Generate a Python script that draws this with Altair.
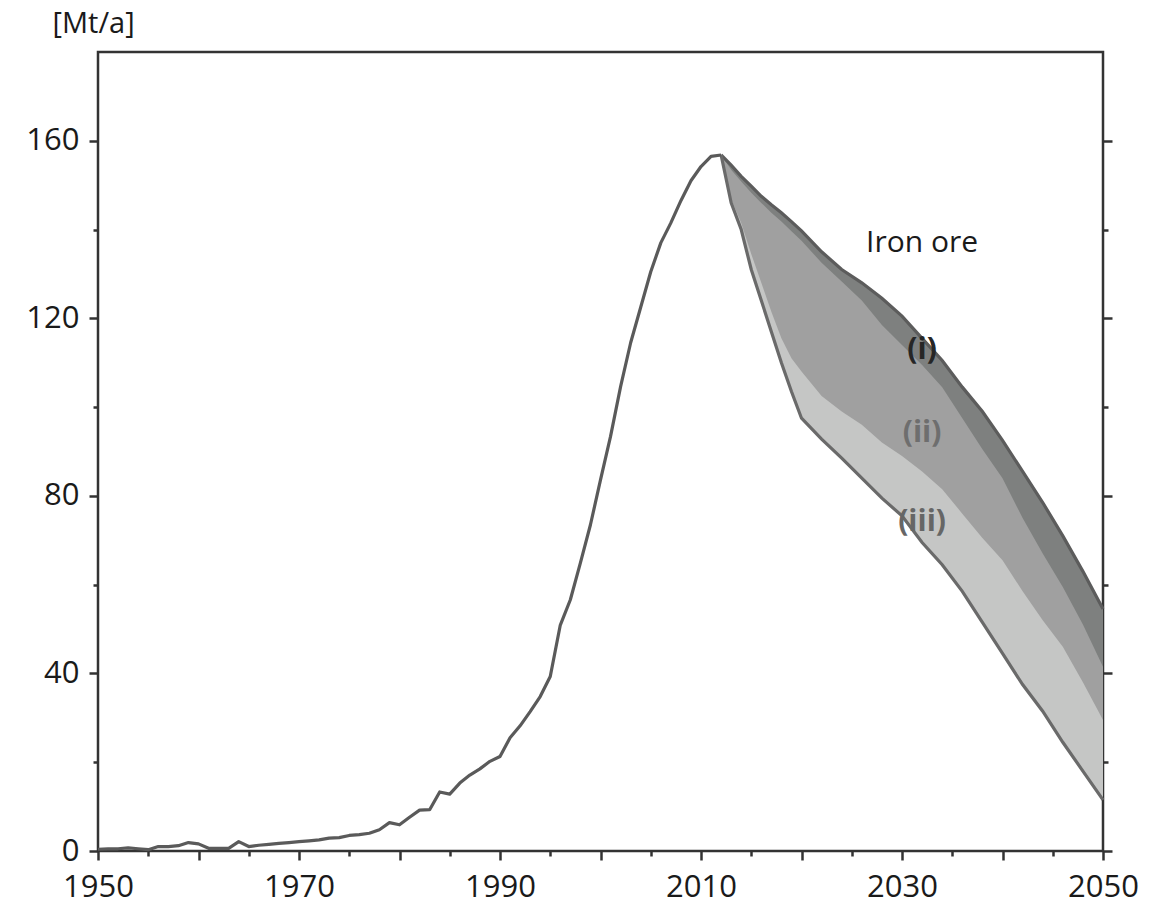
import altair as alt
import pandas as pd

# Historical production [Mt/a]
hist_years = list(range(1950, 2013))
hist_vals = [0.4, 0.5, 0.5, 0.7, 0.5, 0.3, 1.0, 1.0, 1.2, 1.9,
             1.6, 0.6, 0.6, 0.6, 2.1, 1.0, 1.3, 1.5, 1.7, 1.9,
             2.1, 2.3, 2.5, 2.9, 3.0, 3.5, 3.7, 4.0, 4.8, 6.4,
             5.9, 7.6, 9.2, 9.3, 13.3, 12.8, 15.3, 17.1, 18.5, 20.2,
             21.3, 25.5, 28.2, 31.4, 34.8, 39.3, 50.9, 56.6, 64.9, 73.5,
             83.6, 93.4, 104.6, 114.5, 122.5, 130.5, 137.0, 141.5, 146.5, 151.0,
             154.2, 156.5, 156.8]

# Projections (boundaries of the scenario bands)
proj_years = [2012, 2013, 2014, 2015, 2016, 2017, 2018, 2019, 2020, 2022, 2024, 2026,
              2028, 2030, 2032, 2034, 2036, 2038, 2040, 2042, 2044, 2046, 2048, 2050]
proj_i = [156.8, 154.5, 152.0, 149.8, 147.5, 145.6, 143.8, 141.8, 139.7, 135.0, 131.0, 128.0,
          124.5, 120.5, 115.5, 110.5, 104.5, 99.0, 92.5, 85.5, 78.5, 71.0, 63.0, 54.5]
proj_ii = [156.8, 153.5, 150.8, 148.3, 146.0, 143.8, 141.8, 139.6, 137.5, 132.5, 128.3, 124.0,
           118.5, 114.0, 109.5, 104.5, 97.5, 90.5, 84.0, 75.0, 67.0, 59.5, 51.0, 41.5]
proj_iii = [156.8, 146.8, 141.5, 134.5, 128.0, 121.5, 115.5, 111.0, 108.0, 102.5, 99.0, 96.0,
            92.0, 89.0, 85.5, 81.5, 76.0, 70.5, 65.5, 58.5, 52.0, 46.0, 38.0, 29.5]
proj_low = [156.8, 146.0, 140.0, 131.0, 124.0, 117.0, 110.0, 103.5, 97.5, 92.8, 88.5, 84.0,
            79.5, 75.5, 69.5, 64.5, 58.5, 51.5, 44.5, 37.5, 31.5, 24.5, 18.0, 11.5]

label_text = ["Iron ore", "(i)", "(ii)", "(iii)"]
label_x = [2032, 2032, 2032, 2032]
label_y = [137, 112.9, 94.2, 74.1]
label_color = ["#1a1a1a", "#262626", "#6e6e6e", "#666666"]
label_weight = ["normal", "bold", "bold", "bold"]

hist_df = pd.DataFrame({"year": hist_years, "value": hist_vals})
proj_df = pd.DataFrame({"year": proj_years, "top": proj_i, "b1": proj_ii,
                        "b2": proj_iii, "low": proj_low})
lab_df = pd.DataFrame({"text": label_text, "x": label_x, "y": label_y})

FONT = "Open Sans"
AX = "#333333"
xs = alt.Scale(domain=[1950, 2050], nice=False, zero=False)
ys = alt.Scale(domain=[0, 180], nice=False)

common = dict(domain=False, grid=False, tickColor=AX, tickWidth=2.5, title=None)

ax_bottom_major = alt.Axis(orient="bottom", values=list(range(1950, 2051, 10)), tickSize=9,
                           labelExpr="datum.value % 20 == 10 ? format(datum.value, 'd') : ''",
                           labelFont=FONT, labelFontSize=31, labelColor="#1a1a1a",
                           labelPadding=12, labelFlush=False, labelOverlap=False, **common)
ax_bottom_minor = alt.Axis(orient="bottom", values=list(range(1955, 2050, 10)), tickSize=5,
                           labels=False, **common)

ay_left_major = alt.Axis(orient="left", values=[0, 40, 80, 120, 160], tickSize=9,
                         labelFont=FONT, labelFontSize=31, labelColor="#1a1a1a",
                         labelPadding=10, labelFlush=False, labelOverlap=False,
                         domain=False, grid=False, tickColor=AX, tickWidth=2.5,
                         title="[Mt/a]", titleAngle=0, titleAlign="left",
                         titleBaseline="alphabetic", titleX=-46, titleY=-20,
                         titleFont=FONT, titleFontSize=29, titleFontWeight="normal",
                         titleColor="#1a1a1a")
ay_left_minor = alt.Axis(orient="left", values=[20, 60, 100, 140], tickSize=5,
                         labels=False, **common)
ay_right_major = alt.Axis(orient="right", values=[0, 40, 80, 120, 160], tickSize=9,
                          labels=False, **common)
ay_right_minor = alt.Axis(orient="right", values=[20, 60, 100, 140], tickSize=5,
                          labels=False, **common)

band1 = alt.Chart(proj_df).mark_area(color="#7e807f", opacity=1).encode(
    x=alt.X("year:Q", scale=xs, axis=ax_bottom_minor),
    y=alt.Y("top:Q", scale=ys, axis=ay_left_minor),
    y2=alt.Y2("low:Q"),
)
band2 = alt.Chart(proj_df).mark_area(color="#a0a0a0", opacity=1).encode(
    x=alt.X("year:Q", scale=xs, axis=None),
    y=alt.Y("b1:Q", scale=ys, axis=ay_right_major),
    y2=alt.Y2("low:Q"),
)
band3 = alt.Chart(proj_df).mark_area(color="#c5c6c5", opacity=1).encode(
    x=alt.X("year:Q", scale=xs, axis=None),
    y=alt.Y("b2:Q", scale=ys, axis=ay_right_minor),
    y2=alt.Y2("low:Q"),
)
top_line = alt.Chart(proj_df).mark_line(color="#5c5c5c", strokeWidth=3.2).encode(
    x=alt.X("year:Q", scale=xs, axis=None),
    y=alt.Y("top:Q", scale=ys, axis=None),
)
low_line = alt.Chart(proj_df).mark_line(color="#6a6a6a", strokeWidth=3.2).encode(
    x=alt.X("year:Q", scale=xs, axis=None),
    y=alt.Y("low:Q", scale=ys, axis=None),
)
hist = alt.Chart(hist_df).mark_line(color="#5a5a5a", strokeWidth=3.2, strokeJoin="round").encode(
    x=alt.X("year:Q", scale=xs, axis=ax_bottom_major),
    y=alt.Y("value:Q", scale=ys, axis=ay_left_major),
)

text_layers = []
for i in range(len(label_text)):
    text_layers.append(
        alt.Chart(lab_df.iloc[[i]]).mark_text(
            font=FONT, fontSize=30, fontWeight=label_weight[i], color=label_color[i],
            align="center", baseline="middle"
        ).encode(
            x=alt.X("x:Q", scale=xs, axis=None),
            y=alt.Y("y:Q", scale=ys, axis=None),
            text="text:N",
        )
    )

chart = alt.layer(band1, band2, band3, top_line, low_line, hist, *text_layers).resolve_axis(
    x="independent", y="independent"
).properties(
    width=1005, height=799,
    padding={"left": 98, "top": 52, "right": 66, "bottom": 53},
    autosize=alt.AutoSizeParams(type="none"),
    background="white",
).configure_view(stroke=AX, strokeWidth=2.5)

chart.save("out.html", embed_options={"renderer": "svg", "actions": False})
